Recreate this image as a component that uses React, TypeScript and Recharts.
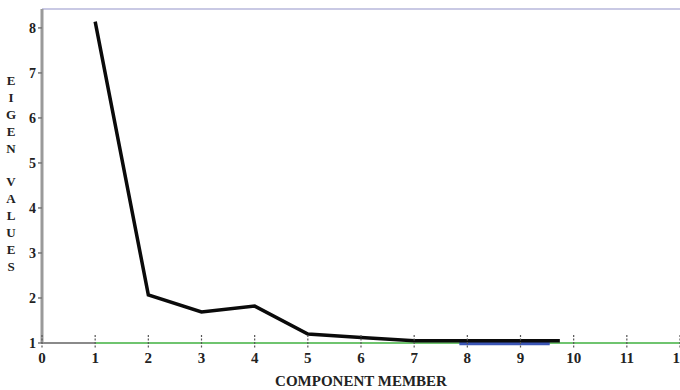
import React from "react";
import { LineChart, Line, XAxis, YAxis, ReferenceLine } from "recharts";

const components = [1, 2, 3, 4, 5, 6, 7, 8, 9, 9.74];
const eigenValues = [8.14, 2.07, 1.69, 1.82, 1.2, 1.12, 1.05, 1.05, 1.05, 1.05];
const blueX = [7.85, 9.55];
const blueY = [1.0, 1.0];
const xTicks = [0, 1, 2, 3, 4, 5, 6, 7, 8, 9, 10, 11, 12];
const yTicks = [1, 2, 3, 4, 5, 6, 7, 8];
const yMax = 8.42;
const yTitle = "EIGEN VALUES";
const xTitle = "COMPONENT MEMBER";

const mainData = components.map((c, i) => ({ x: c, y: eigenValues[i] }));
const blueData = blueX.map((c, i) => ({ x: c, y: blueY[i] }));

const FONT = "'Liberation Serif', 'Times New Roman', serif";

const XTick = (props: any) => {
  const { x, y, payload } = props;
  return (
    <g>
      <line x1={x} x2={x} y1={y - 8} y2={y + 5} stroke="#555" strokeWidth={1.2} strokeDasharray="2 1.5" />
      <text x={x} y={y + 20} textAnchor="middle" fontFamily={FONT} fontWeight="bold" fontSize={15} fill="#222">
        {payload.value}
      </text>
    </g>
  );
};

const YTitle = () => {
  const chars = yTitle.split("");
  return (
    <text fontFamily={FONT} fontWeight="bold" fontSize={13} fill="#222" textAnchor="middle">
      {chars.map((ch, i) => (
        <tspan key={i} x={11} y={85 + i * 16.9}>
          {ch === " " ? "\u00a0" : ch}
        </tspan>
      ))}
    </text>
  );
};

export default function App() {
  return (
    <div style={{ position: "absolute", left: 0, top: 0, width: 680, height: 390, background: "#fff" }}>
      <LineChart width={680} height={390} margin={{ top: 9, right: 0, bottom: 0, left: 0 }}>
        <XAxis
          type="number"
          dataKey="x"
          domain={[0, 12]}
          ticks={xTicks}
          interval={0}
          height={47}
          tickSize={0}
          tickMargin={0}
          tickLine={false}
          tick={<XTick />}
          axisLine={false}
          label={{
            value: xTitle,
            position: "insideBottom",
            offset: 4,
            style: { fontFamily: FONT, fontWeight: "bold", fontSize: 15, fill: "#222" },
          }}
        />
        <YAxis
          type="number"
          domain={[1, yMax]}
          ticks={yTicks}
          interval={0}
          width={42}
          tickSize={4}
          tickMargin={2}
          tickLine={{ stroke: "#777", strokeWidth: 1.5 }}
          axisLine={{ stroke: "#9a9a9a", strokeWidth: 3 }}
          tick={{ fontFamily: FONT, fontWeight: "bold", fontSize: 14, fill: "#222" }}
          label={{ content: () => <YTitle /> }}
        />
        <YAxis
          yAxisId="right"
          orientation="right"
          type="number"
          domain={[1, yMax]}
          ticks={yTicks.filter((t) => t > 1)}
          width={0}
          mirror
          tick={false}
          tickSize={4}
          tickLine={{ stroke: "#777", strokeWidth: 2 }}
          axisLine={false}
        />
        <ReferenceLine
          segment={[{ x: 0, y: yMax }, { x: 12, y: yMax }]}
          stroke="#c9c9e4"
          strokeWidth={2}
          ifOverflow="visible"
        />
        <ReferenceLine
          segment={[{ x: 0, y: 1 }, { x: 1, y: 1 }]}
          stroke="#8a8a8a"
          strokeWidth={2}
          ifOverflow="visible"
        />
        <ReferenceLine
          segment={[{ x: 1, y: 1 }, { x: 12, y: 1 }]}
          stroke="#6fc46f"
          strokeWidth={2}
          ifOverflow="visible"
        />
        <Line
          data={blueData}
          dataKey="y"
          stroke="#3a55b5"
          strokeWidth={4.5}
          dot={false}
          isAnimationActive={false}
        />
        <Line
          data={mainData}
          dataKey="y"
          stroke="#0a0a0a"
          strokeWidth={3.5}
          dot={false}
          isAnimationActive={false}
        />
      </LineChart>
    </div>
  );
}
